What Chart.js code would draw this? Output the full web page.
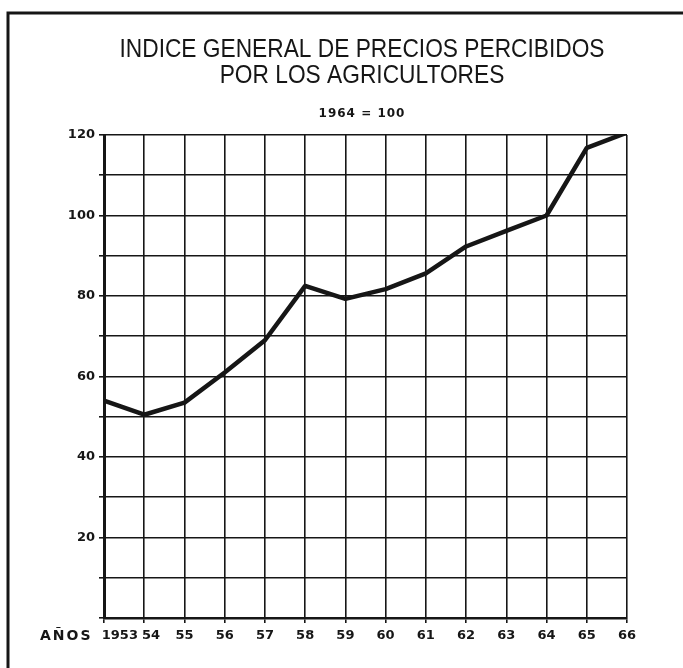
<!DOCTYPE html>
<html>
<head>
<meta charset="utf-8">
<script src="https://cdn.jsdelivr.net/npm/chart.js@4.4.1/dist/chart.umd.min.js"></script>
<style>
  html, body { margin: 0; padding: 0; background: #fff; }
  #wrap { width: 683px; height: 668px; }
</style>
</head>
<body>
<div id="wrap"><canvas id="myChart" width="683" height="668"></canvas></div>
<script>
'use strict';

// data (1964 = 100)
var years = [1953, 1954, 1955, 1956, 1957, 1958, 1959, 1960, 1961, 1962, 1963, 1964, 1965, 1966];
var priceIndex = [54, 50.5, 53.5, 61, 69, 82.5, 79.3, 81.7, 85.6, 92.3, 96.2, 100, 116.8, 120.6];
var yTickLabels = [20, 40, 60, 80, 100, 120];

var titleLines = ['INDICE GENERAL DE PRECIOS PERCIBIDOS', 'POR LOS AGRICULTORES'];
var subTitle = '1964 = 100';
var axisName = 'AÑOS';

var points = [];
for (var i = 0; i < years.length; i++) {
    points.push({x: years[i], y: priceIndex[i]});
}

var ink = '#161616';
var tickFont = {family: 'DejaVu Sans', size: 13, weight: 'bold'};

// frame + titles
var decorPlugin = {
    id: 'decor',
    beforeDraw: function (chart) {
        var ctx = chart.ctx;
        ctx.save();
        ctx.strokeStyle = ink;
        ctx.lineWidth = 3;
        ctx.beginPath();
        ctx.moveTo(8, 668);
        ctx.lineTo(8, 13);
        ctx.lineTo(683, 13);
        ctx.stroke();
        ctx.restore();
    },
    afterDraw: function (chart) {
        var ctx = chart.ctx;
        ctx.save();
        ctx.fillStyle = ink;
        ctx.textAlign = 'center';
        ctx.textBaseline = 'alphabetic';

        // title: squeeze to the width of the original lettering
        ctx.font = '25px "Liberation Sans", Arial, sans-serif';
        var w = ctx.measureText(titleLines[0]).width;
        var sx = 485 / w;
        ctx.save();
        ctx.translate(362, 0);
        ctx.scale(sx, 1);
        ctx.fillText(titleLines[0], 0, 57);
        ctx.fillText(titleLines[1], 0, 83);
        ctx.restore();

        ctx.font = 'bold 12px "DejaVu Sans", sans-serif';
        ctx.letterSpacing = '1px';
        ctx.fillText(subTitle, 362, 117);

        ctx.font = 'bold 14px "DejaVu Sans", sans-serif';
        ctx.letterSpacing = '2px';
        ctx.textAlign = 'left';
        ctx.fillText(axisName, 40, 640);
        ctx.restore();
    }
};

var ctx = document.getElementById('myChart').getContext('2d');
var chart = new Chart(ctx, {
    type: 'line',
    data: {
        datasets: [{
            label: 'Indice',
            data: points,
            borderColor: ink,
            borderWidth: 4.5,
            borderJoinStyle: 'round',
            pointRadius: 0,
            tension: 0,
            fill: false
        }]
    },
    options: {
        responsive: false,
        animation: false,
        layout: {padding: {left: 0, top: 135, right: 56, bottom: 0}},
        plugins: {
            legend: {display: false},
            tooltip: {enabled: false},
            title: {display: false}
        },
        scales: {
            x: {
                type: 'linear',
                min: years[0],
                max: years[years.length - 1],
                afterFit: function (scale) { scale.height = 50; },
                afterBuildTicks: function (scale) {
                    scale.ticks = years.map(function (y) { return {value: y}; });
                },
                ticks: {
                    autoSkip: false,
                    maxRotation: 0,
                    padding: 5,
                    color: ink,
                    font: tickFont,
                    callback: function (v) {
                        // first year written in full, starting at the axis
                        if (v === years[0]) return '       ' + v;
                        if (v === years[1]) return '   ' + String(v).slice(2);
                        return String(v).slice(2);
                    }
                },
                grid: {color: ink, lineWidth: 1.6, tickLength: 5},
                border: {color: ink, width: 2.5}
            },
            y: {
                min: 0,
                max: 120,
                afterFit: function (scale) { scale.width = 104; },
                ticks: {
                    stepSize: 10,
                    padding: 4,
                    color: ink,
                    font: tickFont,
                    callback: function (v) {
                        return yTickLabels.indexOf(v) >= 0 ? v : '';
                    }
                },
                grid: {color: ink, lineWidth: 1.6, tickLength: 5},
                border: {color: ink, width: 3}
            }
        }
    },
    plugins: [decorPlugin]
});
</script>
</body>
</html>
